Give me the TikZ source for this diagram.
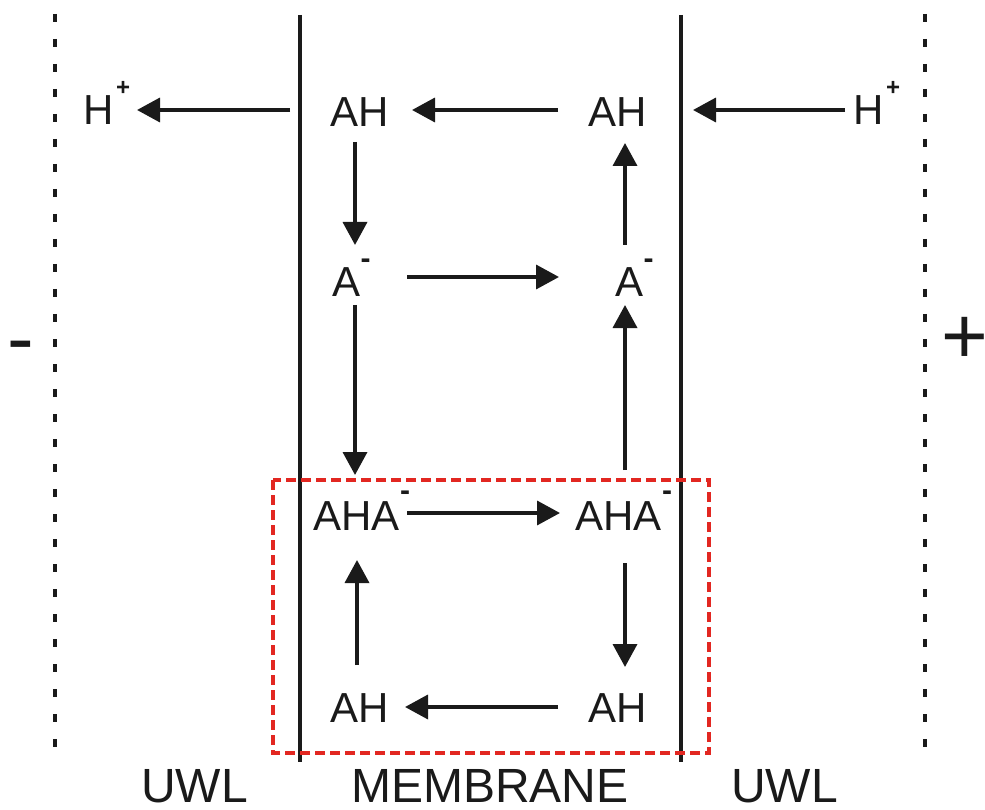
\documentclass[tikz,border=0pt]{standalone}
\usepackage{fontspec}
\setmainfont{Liberation Sans}
\usetikzlibrary{arrows.meta,calc}
\definecolor{ink}{RGB}{26,26,26}
\definecolor{boxred}{RGB}{226,39,33}
\newcommand{\supplus}{\raisebox{29pt}{\hspace{2.5pt}\fontsize{24}{24}\bfseries\selectfont +}}
\newcommand{\supminus}[1]{\raisebox{#1}{\hspace{0.5pt}\fontsize{30}{30}\bfseries\selectfont -}}
\begin{document}
\begin{tikzpicture}[x=1pt,y=-1pt,
  species/.style={inner sep=0pt,anchor=base west,text=ink,font=\fontsize{42}{50}\selectfont},
  label/.style={inner sep=0pt,anchor=base west,text=ink,font=\fontsize{48}{56}\selectfont},
  sign/.style={inner sep=0pt,anchor=base west,text=ink,font=\fontsize{80}{90}\selectfont},
  arr/.style={draw=ink,line width=3.6pt,-{Triangle[length=23pt,width=24pt]}},
  membrane/.style={draw=ink,line width=3.4pt},
  uwl/.style={draw=ink,line width=4pt,dash pattern=on 8pt off 17pt},
  redbox/.style={draw=boxred,line width=3.2pt,dash pattern=on 10pt off 5pt}]
\useasboundingbox (0,0) rectangle (985,810);
% boundary lines
\coordinate (uL1) at (55,14); \coordinate (uL2) at (55,762);
\coordinate (uR1) at (925,14); \coordinate (uR2) at (925,762);
\coordinate (mL1) at (300,15); \coordinate (mL2) at (300,762);
\coordinate (mR1) at (681,15); \coordinate (mR2) at (681,762);
\draw[uwl] (uL1) -- (uL2);
\draw[uwl] (uR1) -- (uR2);
\draw[membrane] (mL1) -- (mL2);
\draw[membrane] (mR1) -- (mR2);
% red box
\coordinate (b1) at (273,480); \coordinate (b2) at (709,753);
\draw[redbox] (b1) rectangle (b2);
% species
\node[species] (hL) at (83,125) {H\supplus};
\node[species] (ahTL) at (330,127) {AH};
\node[species] (ahTR) at (588,127) {AH};
\node[species] (hR) at (853,125) {H\supplus};
\node[species] (aL) at (332,297) {A\supminus{28pt}};
\node[species] (aR) at (615,297) {A\supminus{28pt}};
\node[species] (ahaL) at (313,530) {AHA\supminus{30pt}};
\node[species] (ahaR) at (575,530) {AHA\supminus{30pt}};
\node[species] (ahBL) at (330,722) {AH};
\node[species] (ahBR) at (588,722) {AH};
% signs
\node[sign] (minus) at (7,365) {-};
\node[sign] (plus) at (941,363) {+};
% labels
\node[label] (uwlL) at (141,802) {UWL};
\node[label] (mem) at (351,802) {MEMBRANE};
\node[label] (uwlR) at (731,802) {UWL};
% arrows
\draw[arr] ($(ahTL.base west)+(-40,-17)$) -- ($(hL.base west)+(54,-15)$);
\draw[arr] ($(ahTR.base west)+(-30,-17)$) -- ($(ahTL.base west)+(82,-17)$);
\draw[arr] ($(hR.base west)+(-8,-15)$) -- ($(ahTR.base west)+(105,-17)$);
\draw[arr] ($(ahTL.base west)+(25,15)$) -- ($(aL.base west)+(23,-52)$);
\draw[arr] ($(aL.base west)+(75,-20)$) -- ($(aR.base west)+(-56,-20)$);
\draw[arr] ($(aR.base west)+(10,-52)$) -- ($(ahTR.base west)+(37,16)$);
\draw[arr] ($(aL.base west)+(23,8)$) -- ($(ahaL.base west)+(42,-55)$);
\draw[arr] ($(ahaR.base west)+(50,-60)$) -- ($(aR.base west)+(10,8)$);
\draw[arr] ($(ahaL.base west)+(94,-17)$) -- ($(ahaR.base west)+(-15,-17)$);
\draw[arr] ($(ahaR.base west)+(50,33)$) -- ($(ahBR.base west)+(37,-55)$);
\draw[arr] ($(ahBR.base west)+(-30,-15)$) -- ($(ahBL.base west)+(75,-15)$);
\draw[arr] ($(ahBL.base west)+(27,-57)$) -- ($(ahaL.base west)+(44,30)$);
\end{tikzpicture}
\end{document}
